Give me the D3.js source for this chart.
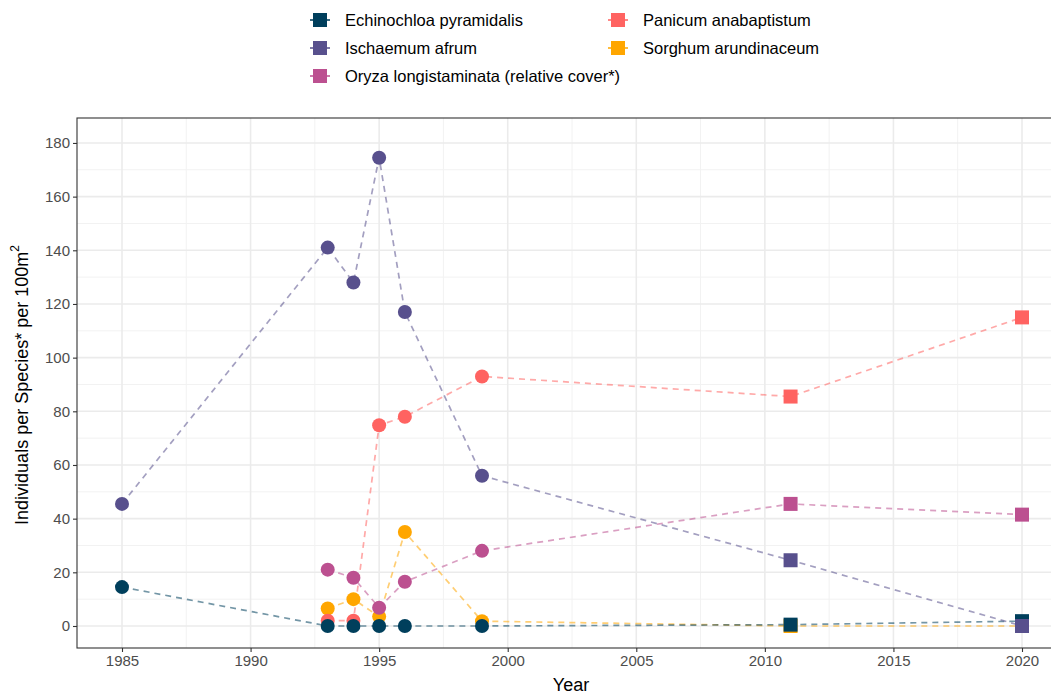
<!DOCTYPE html>
<html><head><meta charset="utf-8">
<script src="https://cdn.jsdelivr.net/npm/d3@7"></script>
<style>body{margin:0;background:#fff;} svg{display:block;font-family:"Liberation Sans",Arial,sans-serif;}</style>
</head><body><svg id="c" width="1051" height="695"></svg>
<script>
const years = [1985, 1993, 1994, 1995, 1996, 1999, 2011, 2020];
const speciesNames = ["Echinochloa pyramidalis", "Ischaemum afrum", "Oryza longistaminata (relative cover*)", "Panicum anabaptistum", "Sorghum arundinaceum"];
const colors = ["#003f5c", "#58508d", "#bc5090", "#ff6361", "#ffa600"];
const echinochloa = [14.5, 0, 0, 0, 0, 0, 0.5, 1.8];
const ischaemum = [45.5, 141, 128, 174.5, 117, 56, 24.5, 0];
const oryza = [null, 21, 18, 6.8, 16.5, 28, 45.5, 41.5];
const panicum = [null, 2, 2, 74.8, 78, 93, 85.5, 115];
const sorghum = [null, 6.5, 10, 3.5, 35, 1.8, 0, 0];
const squareYears = [2011, 2020];
const xTicks = [1985, 1990, 1995, 2000, 2005, 2010, 2015, 2020];
const yTicks = [0, 20, 40, 60, 80, 100, 120, 140, 160, 180];

const seriesValues = [echinochloa, ischaemum, oryza, panicum, sorghum];
const drawOrder = [4, 3, 0, 2, 1];

const svg = d3.select("#c");
const L = 77, R = 1067, T = 118, B = 648;
const x = d3.scaleLinear().domain([1983.25, 2021.75]).range([L, R]);
const y = d3.scaleLinear().domain([-8.2, 189.3]).range([B, T]);

svg.append("defs").append("clipPath").attr("id", "pc")
  .append("rect").attr("x", L).attr("y", T).attr("width", R - L).attr("height", B - T);

const g = svg.append("g");
for (let v = 10; v <= 180; v += 20) g.append("line").attr("x1", L).attr("x2", R).attr("y1", y(v)).attr("y2", y(v)).attr("stroke", "#f2f2f2").attr("stroke-width", 1);
for (let v = 1987.5; v <= 2021; v += 5) g.append("line").attr("y1", T).attr("y2", B).attr("x1", x(v)).attr("x2", x(v)).attr("stroke", "#f2f2f2").attr("stroke-width", 1);
yTicks.forEach(v => g.append("line").attr("x1", L).attr("x2", R).attr("y1", y(v)).attr("y2", y(v)).attr("stroke", "#ebebeb").attr("stroke-width", 1.6));
xTicks.forEach(v => g.append("line").attr("y1", T).attr("y2", B).attr("x1", x(v)).attr("x2", x(v)).attr("stroke", "#ebebeb").attr("stroke-width", 1.6));

const plot = svg.append("g").attr("clip-path", "url(#pc)");
const line = d3.line().defined(d => d.v !== null).x(d => x(d.yr)).y(d => y(d.v));
drawOrder.forEach(i => {
  const pts = years.map((yr, k) => ({yr, v: seriesValues[i][k]}));
  plot.append("path").datum(pts).attr("d", line).attr("fill", "none")
    .attr("stroke", colors[i]).attr("stroke-opacity", 0.55).attr("stroke-width", 1.7)
    .attr("stroke-dasharray", "6,5");
});
drawOrder.forEach(i => {
  const pts = years.map((yr, k) => ({yr, v: seriesValues[i][k]})).filter(d => d.v !== null);
  pts.forEach(d => {
    if (squareYears.includes(d.yr)) {
      plot.append("rect").attr("x", x(d.yr) - 7).attr("y", y(d.v) - 7).attr("width", 14).attr("height", 14).attr("fill", colors[i]);
    } else {
      plot.append("circle").attr("cx", x(d.yr)).attr("cy", y(d.v)).attr("r", 7).attr("fill", colors[i]);
    }
  });
});

svg.append("rect").attr("x", L).attr("y", T).attr("width", R - L).attr("height", B - T).attr("fill", "none").attr("stroke", "#333").attr("stroke-width", 1.1);

const ax = svg.append("g").attr("transform", `translate(0,${B})`)
  .call(d3.axisBottom(x).tickValues(xTicks).tickFormat(d3.format("d")).tickSize(4).tickPadding(3));
const ay = svg.append("g").attr("transform", `translate(${L},0)`)
  .call(d3.axisLeft(y).tickValues(yTicks).tickSize(4).tickPadding(3));
[ax, ay].forEach(a => {
  a.select(".domain").remove();
  a.selectAll(".tick line").attr("stroke", "#333").attr("stroke-width", 1.1);
  a.selectAll(".tick text").attr("fill", "#4d4d4d").style("font-size", "15px").style("font-family", "Liberation Sans, Arial, sans-serif");
});

svg.append("text").attr("x", (L + 1049) / 2 + 8).attr("y", 691).attr("text-anchor", "middle")
  .style("font-size", "18px").attr("fill", "#000").text("Year");
const yt = svg.append("text").attr("transform", `translate(28,${(T + B) / 2 + 2}) rotate(-90)`).attr("text-anchor", "middle")
  .style("font-size", "18px").attr("fill", "#000");
yt.append("tspan").text("Individuals per Species* per 100m");
yt.append("tspan").attr("dy", -9).style("font-size", "12px").text("2");

const legPos = [[310, 20], [310, 48], [310, 76], [608, 20], [608, 48]];
speciesNames.forEach((n, i) => {
  const [lx, ly] = legPos[i];
  const lg = svg.append("g").attr("transform", `translate(${lx},${ly})`);
  lg.append("line").attr("x1", 0).attr("x2", 20).attr("stroke", colors[i]).attr("stroke-width", 1.7).attr("stroke-opacity", 0.9);
  lg.append("rect").attr("x", 3).attr("y", -7).attr("width", 14).attr("height", 14).attr("fill", colors[i]);
  lg.append("text").attr("x", 35).attr("y", 6).style("font-size", "16.5px").attr("fill", "#000").text(n);
});
</script></body></html>
